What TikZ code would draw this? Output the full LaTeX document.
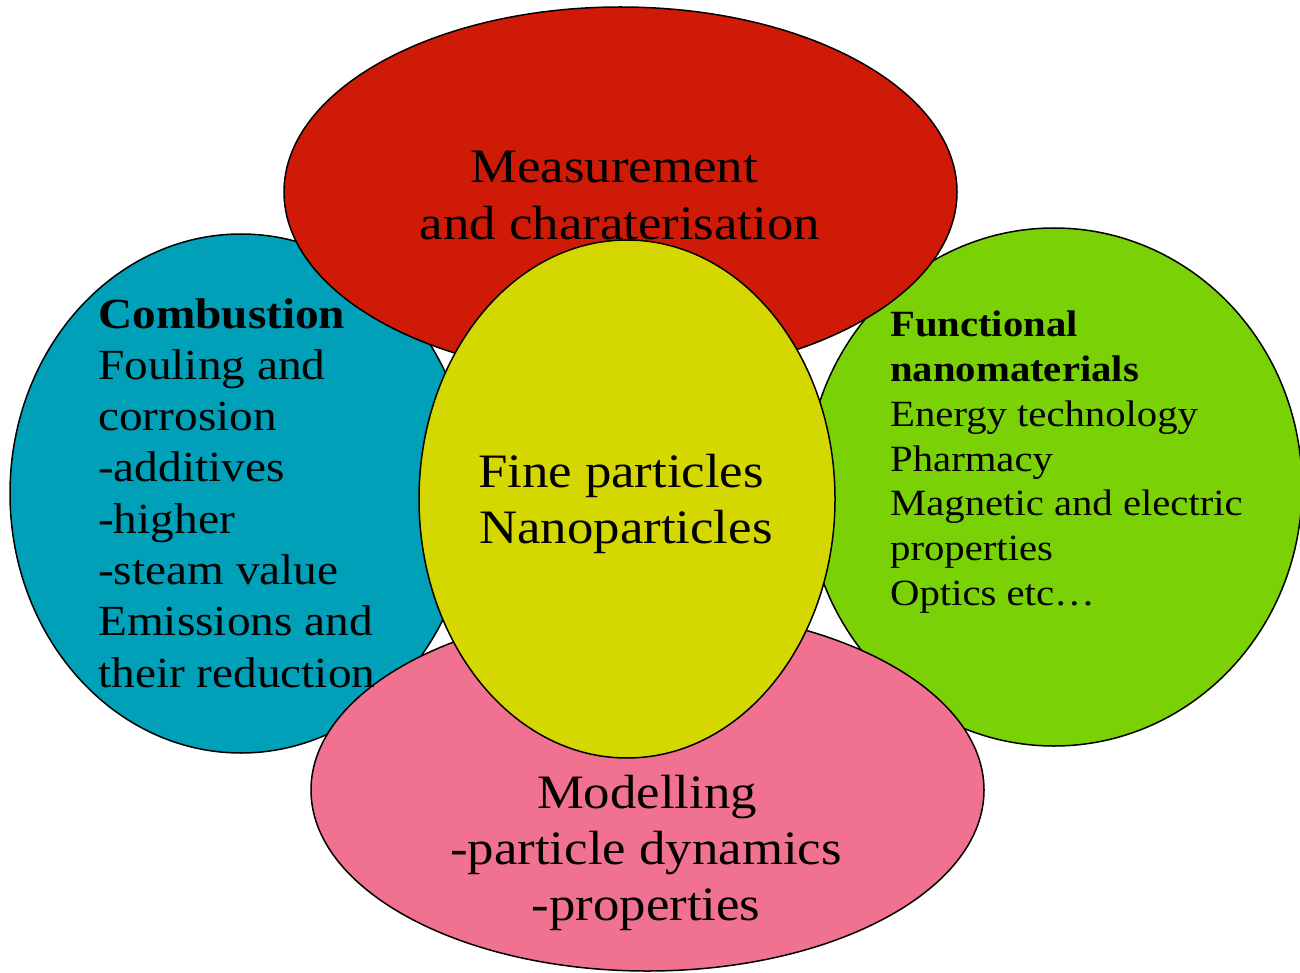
\documentclass[tikz,border=0pt]{standalone}
\usepackage{fontspec}
\setmainfont{Liberation Serif}[FakeStretch=1.1]
\definecolor{cteal}{RGB}{0,160,184}
\definecolor{cred}{RGB}{208,26,8}
\definecolor{cgreen}{RGB}{122,209,6}
\definecolor{cpink}{RGB}{240,114,144}
\definecolor{cyellow}{RGB}{212,216,0}
\begin{document}
\begin{tikzpicture}[x=1pt,y=-1pt,
  blob/.style={draw=black, line width=1.5pt},
  txt/.style={inner sep=0pt, text=black},
  bigtxt/.style={txt, anchor=base, font=\fontsize{48}{57}\selectfont},
  tealtxt/.style={txt, anchor=base west, font=\fontsize{43}{51}\selectfont},
  greentxt/.style={txt, anchor=base west, font=\fontsize{37}{45}\selectfont}]
\useasboundingbox (0,0) rectangle (1300,973);
\fill[white] (0,0) rectangle (1300,973);
% ellipses
\draw[blob, fill=cteal] (241,493.5) ellipse [x radius=231, y radius=259.5];
\draw[blob, fill=cgreen] (1054,487) ellipse [x radius=248, y radius=259];
\draw[blob, fill=cred] (620.5,192) ellipse [x radius=336.5, y radius=185];
\draw[blob, fill=cpink] (647.5,790) ellipse [x radius=336.5, y radius=181];
\draw[blob, fill=cyellow] (627,499) ellipse [x radius=208, y radius=259];
% red texts
\node[bigtxt] (meas1) at (614,183) {Measurement};
\node[bigtxt] (meas2) at (620,240) {and charaterisation};
% teal texts
\node[tealtxt] (comb0) at (98,328) {\bfseries Combustion};
\foreach \t [count=\i] in {Fouling and, corrosion, -additives, -higher, -steam value, Emissions and, their reduction}
  \node[tealtxt] (comb\i) at (98,328+51.3*\i) {\t};
% green texts
\node[greentxt] (fun0) at (890,337) {\bfseries Functional};
\node[greentxt] (fun1) at (890,381.7) {\bfseries nanomaterials};
\foreach \t [count=\i from 2] in {Energy technology, Pharmacy, Magnetic and electric, properties, Optics etc…}
  \node[greentxt] (fun\i) at (890,337+44.7*\i) {\t};
% yellow texts
\node[bigtxt] (fine1) at (621,487) {Fine particles};
\node[bigtxt] (fine2) at (626,543) {Nanoparticles};
% pink texts
\node[bigtxt] (mod1) at (647,808) {Modelling};
\node[bigtxt] (mod2) at (646,864) {-particle dynamics};
\node[bigtxt] (mod3) at (646,920) {-properties};
\end{tikzpicture}
\end{document}
